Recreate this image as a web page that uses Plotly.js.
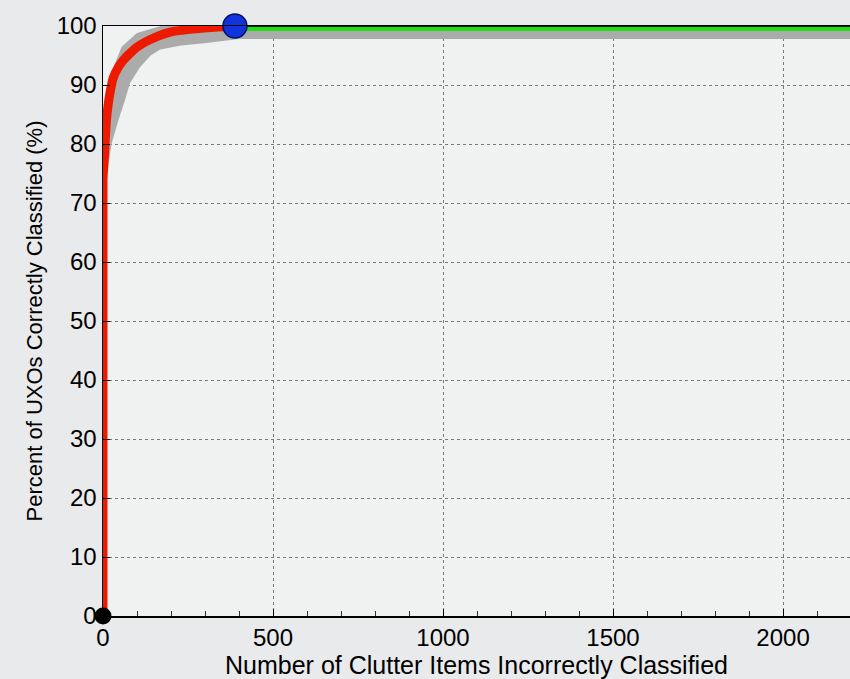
<!DOCTYPE html>
<html>
<head>
<meta charset="utf-8">
<script src="https://cdn.plot.ly/plotly-3.0.1.min.js"></script>
<style>html,body{margin:0;padding:0;background:#e9eaeb;}#chart{width:850px;height:679px;}</style>
</head>
<body>
<div id="chart"></div>
<script>
// ROC curve: clutter false alarms vs percent UXO detected
const curveX = [0, 0, 2, 6, 10, 15, 20, 30, 45, 60, 80, 100, 125, 150, 200, 250, 306, 350, 388];
const curveY = [0, 74, 76, 80, 84, 86.6, 88.5, 91.2, 93, 94.2, 95.4, 96.4, 97.3, 98, 99, 99.4, 99.7, 99.85, 100];
// confidence band
const bandUpperX = [0, 0, 3, 10, 20, 30, 55, 100, 170, 2200];
const bandUpperY = [0, 80, 85, 88.5, 91.5, 93, 96.5, 98.8, 100, 100];
const bandLowerX = [2200, 400, 305, 230, 168, 140, 109, 79, 65, 45, 25, 10, 4, 0];
const bandLowerY = [97.8, 97.8, 97.1, 96.7, 96, 95, 93, 90.3, 87.5, 84, 80, 74, 50, 0];
// flat section after full detection
const flatX = [388, 2200];
const flatY = [100, 100];
const startPt = {x: [0], y: [0]};
const stopPt = {x: [388], y: [100]};
const endPt = {x: [2200], y: [100]};
const xTicks = [0, 500, 1000, 1500, 2000];
const yTicks = [0, 10, 20, 30, 40, 50, 60, 70, 80, 90, 100];

const traces = [
  {x: bandUpperX.concat(bandLowerX), y: bandUpperY.concat(bandLowerY), mode: 'lines', fill: 'toself',
   fillcolor: '#ababab', line: {width: 0, color: '#ababab'}, hoverinfo: 'skip', cliponaxis: false},
  {x: flatX, y: flatY, mode: 'lines', line: {color: '#22dd11', width: 10}, cliponaxis: false},
  {x: flatX, y: flatY, mode: 'lines', line: {color: '#002200', width: 2}, cliponaxis: false},
  {x: curveX, y: curveY, mode: 'lines', line: {color: '#ee1a00', width: 9, shape: 'spline', smoothing: 0.5}, cliponaxis: false},
  {x: startPt.x, y: startPt.y, mode: 'markers', marker: {color: '#000', size: 17}, cliponaxis: false},
  {x: endPt.x, y: endPt.y, mode: 'markers', marker: {color: '#000', size: 17}, cliponaxis: false},
  {x: stopPt.x, y: stopPt.y, mode: 'markers', marker: {color: '#1133dd', size: 24, line: {color: '#001166', width: 1.5}}, cliponaxis: false}
];

const layout = {
  width: 850, height: 679,
  margin: {l: 103, r: 0, t: 26, b: 63},
  paper_bgcolor: '#e9eaeb',
  plot_bgcolor: '#f0f1f1',
  showlegend: false,
  font: {family: 'Liberation Sans, Arial, sans-serif', color: '#000', size: 24},
  xaxis: {
    range: [0, 2197], tickvals: xTicks, ticktext: xTicks.map(String),
    showgrid: true, gridcolor: '#7a7a7a', griddash: 'dot', gridwidth: 1,
    zeroline: false, showline: true, linecolor: '#000', linewidth: 1.5, mirror: true,
    ticks: 'inside', ticklen: 7, tickcolor: '#000',
    minor: {dtick: 100, ticks: 'inside', ticklen: 5, tickcolor: '#333', showgrid: false},
    title: {text: 'Number of Clutter Items Incorrectly Classified', font: {size: 25}, standoff: 2},
    tickfont: {size: 24}
  },
  yaxis: {
    range: [0, 100], tickvals: yTicks, ticktext: yTicks.map(String),
    showgrid: true, gridcolor: '#7a7a7a', griddash: 'dot', gridwidth: 1,
    zeroline: false, showline: true, linecolor: '#000', linewidth: 1.5,
    ticks: 'inside', ticklen: 7, tickcolor: '#000',
    title: {text: 'Percent of UXOs Correctly Classified (%)', font: {size: 22}, standoff: 8},
    tickfont: {size: 24}
  }
};

Plotly.newPlot('chart', traces, layout, {displayModeBar: false, staticPlot: true});
</script>
</body>
</html>
